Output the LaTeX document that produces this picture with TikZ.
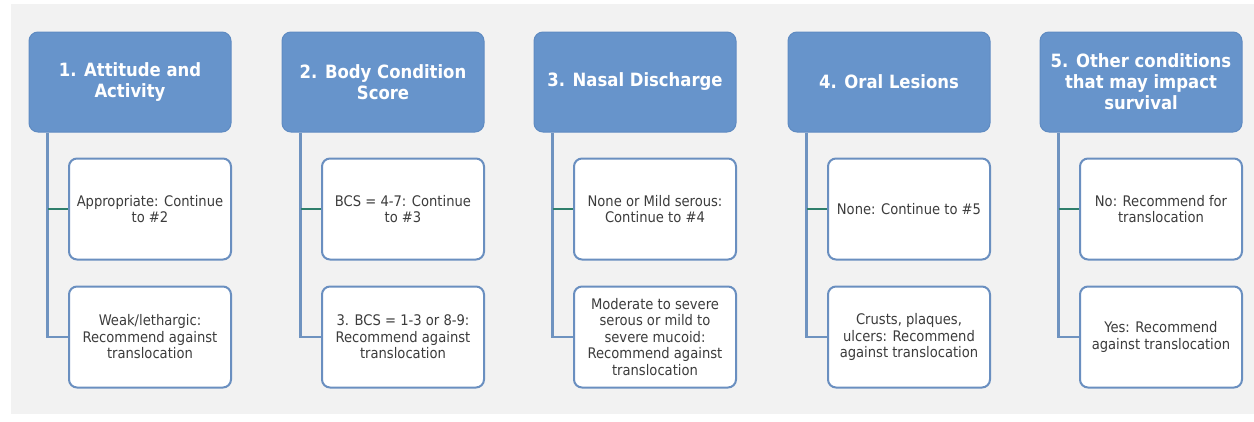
\documentclass[tikz,border=0pt]{standalone}
\usepackage{fontspec}
\setmainfont{DejaVu Sans Condensed}
\usetikzlibrary{calc}
\definecolor{bg}{HTML}{F2F2F2}
\definecolor{hdr}{HTML}{6794CB}
\definecolor{hdrborder}{HTML}{5F8BC2}
\definecolor{cborder}{HTML}{6A8FC0}
\definecolor{trunkc}{HTML}{6F93C0}
\definecolor{grn}{HTML}{2F7F6C}
\definecolor{txt}{HTML}{3C3C3C}
\begin{document}
\begin{tikzpicture}[x=1pt,y=-1pt,
  hbox/.style={draw=hdrborder, fill=hdr, rounded corners=9pt, minimum width=202pt, minimum height=100pt,
    text=white, font=\fontsize{18.3}{21}\selectfont\bfseries, align=center, inner sep=0pt, line width=1pt},
  cbox/.style={draw=cborder, fill=white, rounded corners=8pt, minimum width=162pt, minimum height=101pt,
    text=txt, font=\fontsize{14.6}{16.5}\selectfont, align=center, inner sep=0pt, line width=2pt},
  trunk/.style={draw=trunkc, line width=2.5pt},
  firstlink/.style={draw=grn, line width=2.5pt}]
\useasboundingbox (0,0) rectangle (1254,421);
\fill[white] (0,0) rectangle (1254,421);
\fill[bg] (11,4) rectangle (1254,414);

% headers
\node[hbox] (h1) at (130,82) {1. Attitude and\\Activity};
\node[hbox] (h2) at (383,82) {2. Body Condition\\Score};
\node[hbox] (h3) at (635,82) {3. Nasal Discharge};
\node[hbox] (h4) at (889,82) {4. Oral Lesions};
\node[hbox] (h5) at (1141,82) {5. Other conditions\\that may impact\\survival};

% children
\node[cbox] (c1a) at (150,209) {Appropriate: Continue\\to \#2};
\node[cbox] (c1b) at (150,337) {Weak/lethargic:\\Recommend against\\translocation};
\node[cbox] (c2a) at (403,209) {BCS = 4-7: Continue\\to \#3};
\node[cbox] (c2b) at (403,337) {3. BCS = 1-3 or 8-9:\\Recommend against\\translocation};
\node[cbox] (c3a) at (655,209) {None or Mild serous:\\Continue to \#4};
\node[cbox] (c3b) at (655,337) {Moderate to severe\\serous or mild to\\severe mucoid:\\Recommend against\\translocation};
\node[cbox] (c4a) at (909,209) {None: Continue to \#5};
\node[cbox] (c4b) at (909,337) {Crusts, plaques,\\ulcers: Recommend\\against translocation};
\node[cbox] (c5a) at (1161,209) {No: Recommend for\\translocation};
\node[cbox] (c5b) at (1161,337) {Yes: Recommend\\against translocation};

% connectors
\foreach \i in {1,...,5}{
  \coordinate (t\i) at ($(h\i.south west)+(19,0)$);
  \draw[trunk] (t\i) |- (c\i b.west);
  \draw[firstlink] (t\i |- c\i a.west) -- (c\i a.west);
}
\end{tikzpicture}
\end{document}
